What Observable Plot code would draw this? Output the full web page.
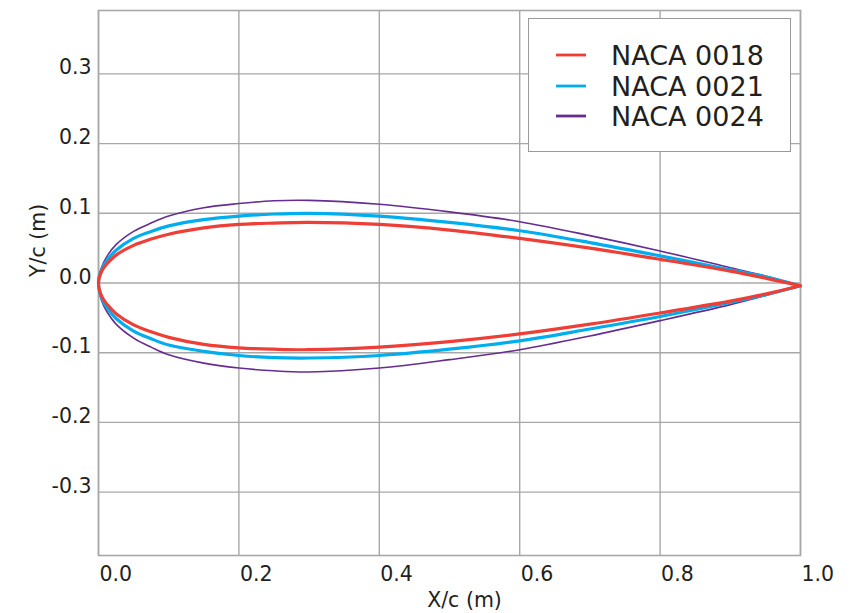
<!DOCTYPE html>
<html>
<head>
<meta charset="utf-8">
<script src="https://cdn.jsdelivr.net/npm/d3@7"></script>
<script src="https://cdn.jsdelivr.net/npm/@observablehq/plot@0.6"></script>
<style>
  html, body { margin: 0; padding: 0; background: #fff; }
  #wrap { position: relative; width: 855px; height: 613px; font-family: "DejaVu Sans", sans-serif; color: #231f20; }
  #legend { position: absolute; left: 528px; top: 18px; width: 263px; height: 134px; border: 1.3px solid #9a9a9a; box-sizing: border-box; background: #fff; }
  .item { position: absolute; left: 0; height: 30px; display: flex; align-items: center; white-space: nowrap; }
  .sw { width: 30px; margin-left: 27px; margin-right: 25px; }
</style>
</head>
<body>
<div id="wrap"></div>
<script>
const seriesNames = ["NACA 0018", "NACA 0021", "NACA 0024"];
const seriesColors = ["#ee3e36", "#00aeef", "#662d91"];
const seriesWidths = [3.2, 3.2, 1.6];

const xStations = [0, 0.005, 0.0125, 0.025, 0.05, 0.075, 0.1, 0.15, 0.2, 0.25, 0.3, 0.4, 0.5, 0.6, 0.7, 0.8, 0.9, 0.95, 1.0];

const upper0018 = [0, 0.018, 0.028, 0.040, 0.054, 0.063, 0.070, 0.079, 0.084, 0.086, 0.087, 0.084, 0.076, 0.064, 0.050, 0.034, 0.017, 0.007, -0.004];
const lower0018 = [0, -0.020, -0.031, -0.044, -0.060, -0.070, -0.078, -0.088, -0.093, -0.095, -0.0957, -0.092, -0.084, -0.073, -0.059, -0.043, -0.026, -0.016, -0.004];
const upper0021 = [0, 0.021, 0.033, 0.047, 0.064, 0.074, 0.082, 0.091, 0.096, 0.099, 0.100, 0.096, 0.087, 0.075, 0.058, 0.039, 0.019, 0.009, -0.004];
const lower0021 = [0, -0.023, -0.036, -0.051, -0.069, -0.080, -0.089, -0.098, -0.104, -0.107, -0.1076, -0.104, -0.095, -0.083, -0.066, -0.048, -0.028, -0.017, -0.004];
const upper0024 = [0, 0.024, 0.039, 0.055, 0.074, 0.086, 0.096, 0.108, 0.114, 0.118, 0.1186, 0.113, 0.102, 0.0880, 0.068, 0.046, 0.022, 0.010, -0.004];
const lower0024 = [0, -0.027, -0.042, -0.059, -0.079, -0.092, -0.103, -0.115, -0.122, -0.126, -0.1276, -0.122, -0.110, -0.0957, -0.076, -0.054, -0.031, -0.018, -0.004];

const xTicks = [0, 0.2, 0.4, 0.6, 0.8, 1.0];
const yTicks = [-0.3, -0.2, -0.1, 0, 0.1, 0.2, 0.3];
const xTitle = "X/c (m)";
const yTitle = "Y/c (m)";

const profiles = [[upper0018, lower0018], [upper0021, lower0021], [upper0024, lower0024]];

// closed outline: trailing edge -> leading edge along upper, then back along lower
function outline(name, up, lo) {
  const pts = [];
  for (let i = xStations.length - 1; i >= 0; i--) pts.push({series: name, x: xStations[i], y: up[i]});
  for (let i = 1; i < xStations.length; i++) pts.push({series: name, x: xStations[i], y: lo[i]});
  return pts;
}

const order = [2, 1, 0]; // purple under, red on top
const lineMarks = order.map(k => Plot.line(outline(seriesNames[k], profiles[k][0], profiles[k][1]), {
  x: "x", y: "y", stroke: seriesColors[k], strokeWidth: seriesWidths[k], curve: "catmull-rom"
}));

const fmt = d => (Math.abs(d) < 1e-9 ? "0.0" : d.toFixed(1));

const chart = Plot.plot({
  width: 855,
  height: 613,
  marginLeft: 98,
  marginRight: 55,
  marginTop: 10,
  marginBottom: 58,
  style: {fontFamily: "DejaVu Sans, sans-serif", fontSize: "20.5px", color: "#231f20", background: "#fff"},
  x: {domain: [0, 1], label: null},
  y: {domain: [-0.391, 0.391], label: null},
  marks: [
    Plot.gridX(xTicks, {stroke: "#a8a8a8", strokeOpacity: 1, strokeWidth: 1.4}),
    Plot.gridY(yTicks, {stroke: "#a8a8a8", strokeOpacity: 1, strokeWidth: 1.4}),
    Plot.frame({stroke: "#a8a8a8", strokeWidth: 1.6}),
    Plot.axisX(xTicks, {tickSize: 0, tickPadding: 11, textAnchor: "start", dx: 1, tickFormat: fmt, label: null, fill: "#231f20", fontSize: 20.5}),
    Plot.axisY(yTicks, {tickSize: 0, tickPadding: 7, dy: -6, tickFormat: fmt, label: null, fill: "#231f20", fontSize: 20.5}),
    Plot.text([xTitle], {frameAnchor: "bottom", dx: 15, dy: 51, fontSize: 20.5, fill: "#231f20"}),
    Plot.text([yTitle], {frameAnchor: "left", rotate: -90, dx: -60, dy: -6, fontSize: 20.5, fill: "#231f20"}),
    ...lineMarks
  ]
});

const wrap = document.getElementById("wrap");
wrap.appendChild(chart);

// legend font size fitted so that an entry is about 155px wide
const ctx = document.createElement("canvas").getContext("2d");
ctx.font = '100px "DejaVu Sans"';
const w100 = ctx.measureText(seriesNames[0]).width || 568;
const legendFont = Math.min(27, 100 * 155 / w100);

const legend = document.createElement("div");
legend.id = "legend";
const tops = [21, 52, 82];
seriesNames.forEach((name, i) => {
  const it = document.createElement("div");
  it.className = "item";
  it.style.top = tops[i] + "px";
  it.innerHTML = `<svg class="sw" width="30" height="6"><line x1="0" x2="30" y1="3" y2="3" stroke="${seriesColors[i]}" stroke-width="2.8"/></svg><span style="font-size:${legendFont}px">${name}</span>`;
  legend.appendChild(it);
});
wrap.appendChild(legend);
</script>
</body>
</html>
